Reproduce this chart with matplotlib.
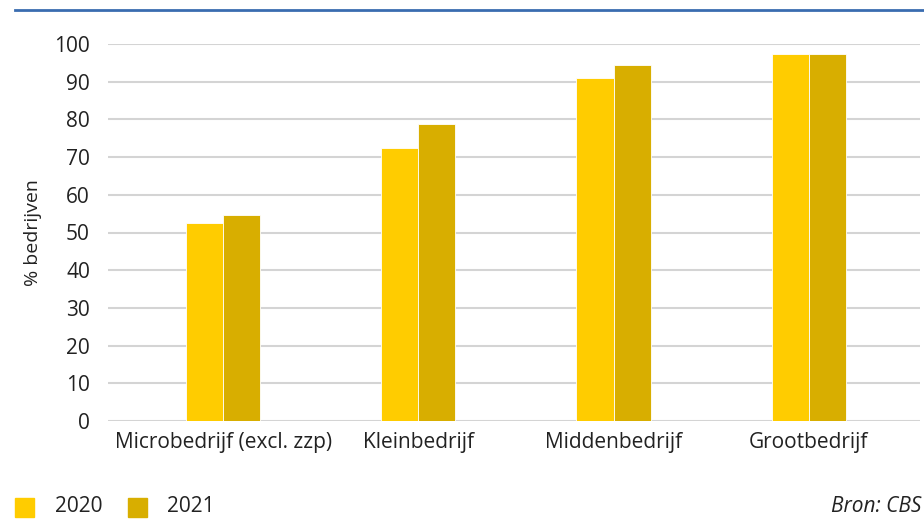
import matplotlib.pyplot as plt
import numpy as np
from matplotlib.lines import Line2D
from matplotlib.patches import Rectangle

plt.rcParams['font.family'] = ['Open Sans', 'DejaVu Sans']

categories = ["Microbedrijf (excl. zzp)", "Kleinbedrijf", "Middenbedrijf", "Grootbedrijf"]
years = ["2020", "2021"]
values_2020 = [52.4, 72.4, 91.0, 97.3]
values_2021 = [54.6, 78.8, 94.4, 97.3]
colors = ["#FFCC00", "#D8AE00"]

fig = plt.figure(figsize=(9.24, 5.19), dpi=100)
ax = fig.add_axes([108 / 924, 1 - 421 / 519, 812 / 924, 377 / 519])

x = np.arange(len(categories))
w = 0.19
ax.bar(x - w / 2, values_2020, w, color=colors[0], edgecolor="white", linewidth=0.6, zorder=3)
ax.bar(x + w / 2, values_2021, w, color=colors[1], edgecolor="white", linewidth=0.6, zorder=3)

ax.set_xlim(-0.59, 3.57)
ax.set_ylim(0, 100)
ax.set_yticks(range(0, 101, 10))
ax.yaxis.grid(True, color="#d4d4d4", linewidth=1.5, zorder=0)
ax.set_xticks(x)
ax.set_xticklabels(categories, fontsize=15, color="#222222")
ax.tick_params(axis="y", labelsize=15, colors="#222222", length=0, pad=13)
ax.tick_params(axis="x", length=0, pad=8)
for s in ax.spines.values():
    s.set_visible(False)
ax.set_ylabel("% bedrijven", fontsize=14, color="#222222", labelpad=9)

# top rule
fig.add_artist(Line2D([15 / 924, 1], [1 - 10 / 519] * 2, color="#3a6cb0", linewidth=2))

# legend
for i, (yr, c) in enumerate(zip(years, colors)):
    x0 = [15, 128][i]
    fig.add_artist(Rectangle((x0 / 924, 1 - 517 / 519), 19 / 924, 19 / 519, color=c, transform=fig.transFigure))
    fig.text([55, 167][i] / 924, 1 - 507 / 519, yr, fontsize=15, va="center", color="#222222")

fig.text(921 / 924, 1 - 507 / 519, "Bron: CBS", fontsize=15, style="italic", ha="right", va="center", color="#222222")

fig.savefig("out.png", dpi=100)
